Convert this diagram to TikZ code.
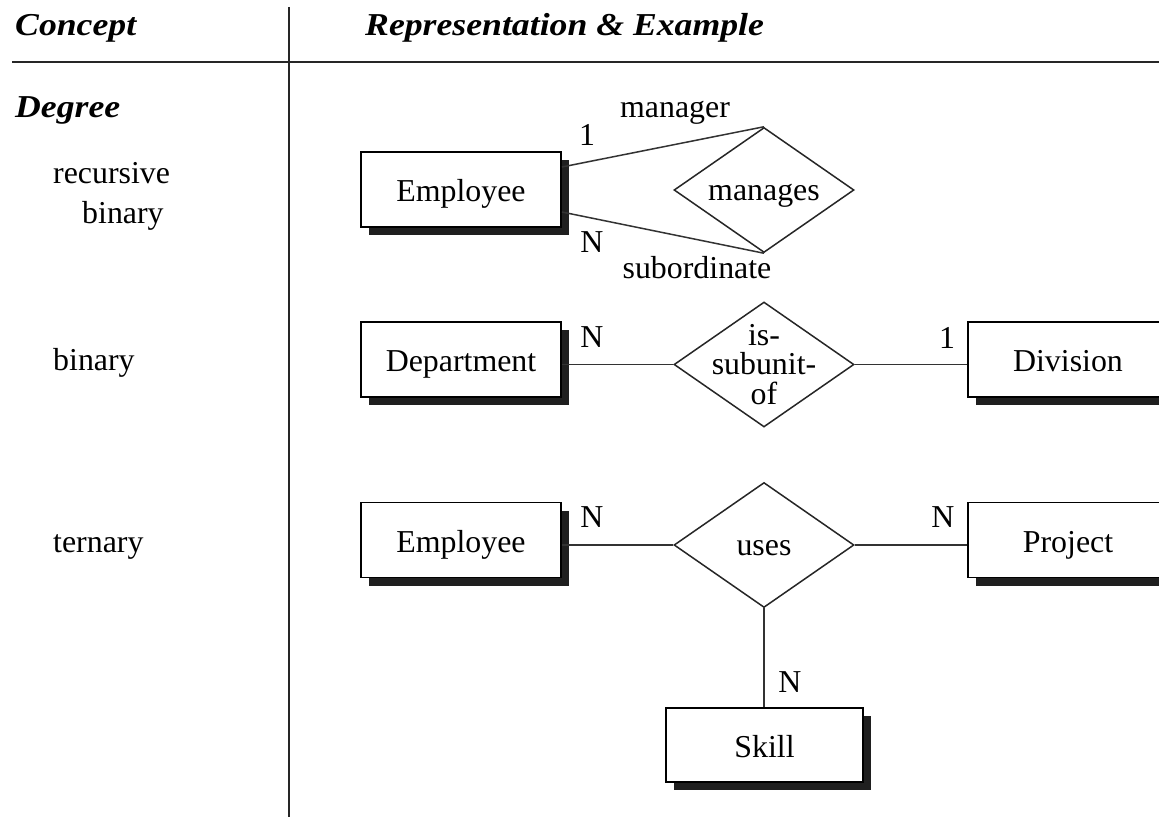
\documentclass[tikz,border=0pt]{standalone}
\usepackage{fontspec}
\setmainfont{Liberation Serif}
\newfontfamily\headfont[FakeStretch=1.12]{Liberation Serif}
\usetikzlibrary{shapes.geometric,shadows}

\begin{document}
\begin{tikzpicture}[x=1bp,y=-1bp,
  every node/.style={font=\fontsize{32}{30}\selectfont},
  entity/.style={draw=black, line width=1.8bp, fill=white,
    minimum width=200bp, minimum height=75bp, inner sep=0pt,
    text height=30bp, text depth=6bp,
    drop shadow={shadow xshift=8bp, shadow yshift=-8bp, fill=black!88, opacity=1}},
  rel/.style={diamond, draw=black!85, line width=1.5bp, fill=white,
    minimum width=180bp, minimum height=125bp, inner sep=0pt},
  reltext/.style={inner sep=0pt, text height=26bp, text depth=6bp},
  link/.style={draw=black!80, line width=1.5bp},
  card/.style={inner sep=0pt},
  word/.style={inner sep=0pt, anchor=base},
  head/.style={font=\fontsize{32}{32}\selectfont\headfont\bfseries\itshape,
    anchor=base west, inner sep=0pt},
  concept/.style={inner sep=0pt, anchor=base west},
  rule/.style={draw=black!85, line width=2bp}]

\useasboundingbox (0,0) rectangle (1159,817);
\clip (0,0) rectangle (1159,817);

% table rules
\coordinate (vtop) at (289,7);
\coordinate (vbot) at (289,817);
\coordinate (hleft) at (12,62);
\coordinate (hright) at (1159,62);
\draw[rule] (vtop) -- (vbot);
\draw[rule] (hleft) -- (hright);

% column heads
\node[head] (hconcept) at (15,36) {Concept};
\node[head] (hrep) at (365,36) {Representation \& Example};
\node[head] (degree) at (15,117) {Degree};

% concept names
\node[concept] (crec) at (53,183) {recursive};
\node[concept] (cbinrec) at (82,223) {binary};
\node[concept] (cbin) at (53,370) {binary};
\node[concept] (cter) at (53,552) {ternary};

% recursive binary relationship
\node[entity] (emp1) at (461,189.5) {Employee};
\node[rel, label={[reltext]center:manages}] (manages) at (764,190) {};
\draw[link] ([yshift=22.5bp]emp1.east) -- (manages.north);
\draw[link] ([yshift=-22.5bp]emp1.east) -- (manages.south);
\node[word] (lmgr) at (675,117) {manager};
\node[card] (lone1) at (587,135) {1};
\node[card] (lN1) at (592,242) {N};
\node[word] (lsub) at (697,278) {subordinate};

% binary relationship
\node[entity] (dept) at (461,359.5) {Department};
\node[rel, label={[align=center]center:{is-\\subunit-\\of}}] (subunit) at (764,364.5) {};
\node[entity] (div) at (1068,359.5) {Division};
\draw[link] (dept.east |- subunit.west) -- (subunit.west);
\draw[link] (subunit.east) -- (subunit.east -| div.west);
\node[card] (lN2) at (592,337) {N};
\node[card] (lone2) at (947,338) {1};

% ternary relationship
\node[entity] (emp2) at (461,540) {Employee};
\node[rel, label={[reltext]center:uses}] (uses) at (764,545) {};
\node[entity] (proj) at (1068,540) {Project};
\node[entity, minimum width=197bp, minimum height=74bp] (skill) at (764.5,745) {Skill};
\draw[link] (emp2.east |- uses.west) -- (uses.west);
\draw[link] (uses.east) -- (uses.east -| proj.west);
\draw[link] (uses.south) -- (uses.south |- skill.north);
\node[card] (lN3) at (592,517) {N};
\node[card] (lN4) at (943,517) {N};
\node[card] (lN5) at (790,682) {N};

\end{tikzpicture}
\end{document}
